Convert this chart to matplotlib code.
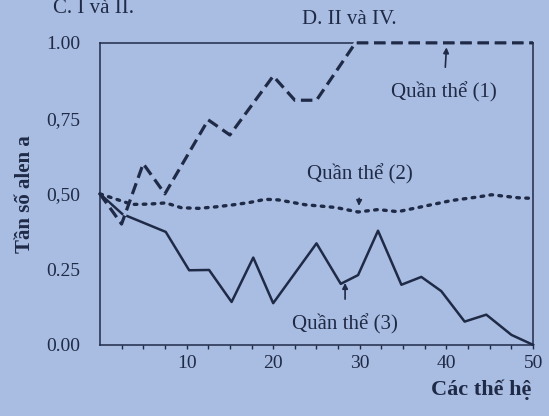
import matplotlib
matplotlib.use("Agg")
import matplotlib.pyplot as plt
from matplotlib.ticker import FixedLocator

plt.rcParams['font.family'] = ['Liberation Serif', 'DejaVu Serif']

# du lieu doc tu hinh
gen1 = [0, 2.5, 5, 7.5, 12.5, 15, 20, 22.5, 25, 29.5, 50]
p1 = [0.50, 0.40, 0.60, 0.50, 0.745, 0.695, 0.89, 0.81, 0.81, 1.0, 1.0]

gen2 = [0, 1.8, 3.7, 5.6, 7.6, 9.4, 11.4, 13.4, 15.2, 17.2, 19.1, 20.6, 23.7,
        27.2, 29.8, 32.1, 34.4, 37.6, 40.6, 43.7, 45.2, 48.3, 50]
p2 = [0.50, 0.483, 0.465, 0.466, 0.47, 0.454, 0.452, 0.457, 0.463, 0.471, 0.482,
      0.48, 0.464, 0.455, 0.44, 0.448, 0.441, 0.46, 0.478, 0.49, 0.497, 0.487, 0.485]

gen3 = [0, 2.6, 7.6, 10.3, 12.6, 15.2, 17.7, 20.0, 25.0, 27.8, 29.8, 32.1, 34.8,
        37.1, 39.4, 42.1, 44.6, 47.5, 50]
p3 = [0.50, 0.433, 0.374, 0.247, 0.248, 0.142, 0.289, 0.138, 0.336, 0.202, 0.231,
      0.378, 0.199, 0.225, 0.178, 0.077, 0.10, 0.033, 0.0]

yticks = [0, 0.25, 0.5, 0.75, 1.0]
ytick_labels = ['0.00', '0.25', '0,50', '0,75', '1.00']
xticks = [10, 20, 30, 40, 50]
xminor = [2.5, 5, 7.5, 12.5, 15, 17.5, 22.5, 25, 27.5, 32.5, 35, 37.5, 42.5, 45, 47.5]

bg = '#a9bde2'
ink = '#1f2a47'

fig = plt.figure(figsize=(5.49, 4.16), dpi=100, facecolor=bg)
ax = fig.add_axes([0.182, 0.171, 0.789, 0.726], facecolor=bg)

ax.plot(gen3, p3, color=ink, lw=1.8, clip_on=False, zorder=3)
ax.plot(gen2, p2, color=ink, lw=2.4, linestyle=(0, (0.8, 1.9)),
        dash_capstyle='round', clip_on=False, zorder=3)
ax.plot(gen1, p1, color=ink, lw=2.3, linestyle=(0, (3.6, 1.8)),
        gapcolor=bg, clip_on=False, zorder=4)

ax.set_xlim(0, 50)
ax.set_ylim(0, 1)
ax.set_yticks(yticks)
ax.set_yticklabels(ytick_labels)
ax.set_xticks(xticks)
ax.xaxis.set_minor_locator(FixedLocator(xminor))
ax.tick_params(axis='x', which='both', direction='out', length=3, width=1,
               color=ink, labelsize=14, labelcolor=ink, pad=4)
ax.tick_params(axis='y', length=0, labelsize=14, labelcolor=ink, pad=14)
for s in ax.spines.values():
    s.set_color(ink)
    s.set_linewidth(1.1)

ax.set_ylabel('Tần số alen a', fontsize=15, fontweight='bold', color=ink, labelpad=8)
ax.set_xlabel('Các thế hệ', fontsize=16, fontweight='bold', color=ink)
ax.xaxis.set_label_coords(0.88, -0.115)

arr = dict(arrowstyle='-|>', color=ink, lw=1.2, mutation_scale=8)
ax.annotate('Quần thể (1)', xy=(40, 0.985), xytext=(39.7, 0.835),
            ha='center', va='center', fontsize=15, color=ink,
            arrowprops=dict(arr, shrinkA=9, shrinkB=0))
ax.annotate('Quần thể (2)', xy=(29.9, 0.46), xytext=(30, 0.565),
            ha='center', va='center', fontsize=15, color=ink,
            arrowprops=dict(arr, shrinkA=8, shrinkB=0))
ax.annotate('Quần thể (3)', xy=(28.3, 0.205), xytext=(28.3, 0.067),
            ha='center', va='center', fontsize=15, color=ink,
            arrowprops=dict(arr, shrinkA=9, shrinkB=0))

fig.text(0.097, 0.968, 'C. I và II.', fontsize=15, color=ink, va='baseline')
fig.text(0.636, 0.954, 'D. II và IV.', fontsize=15, color=ink, ha='center', va='center')

fig.savefig('out.png', dpi=100, facecolor=bg)
